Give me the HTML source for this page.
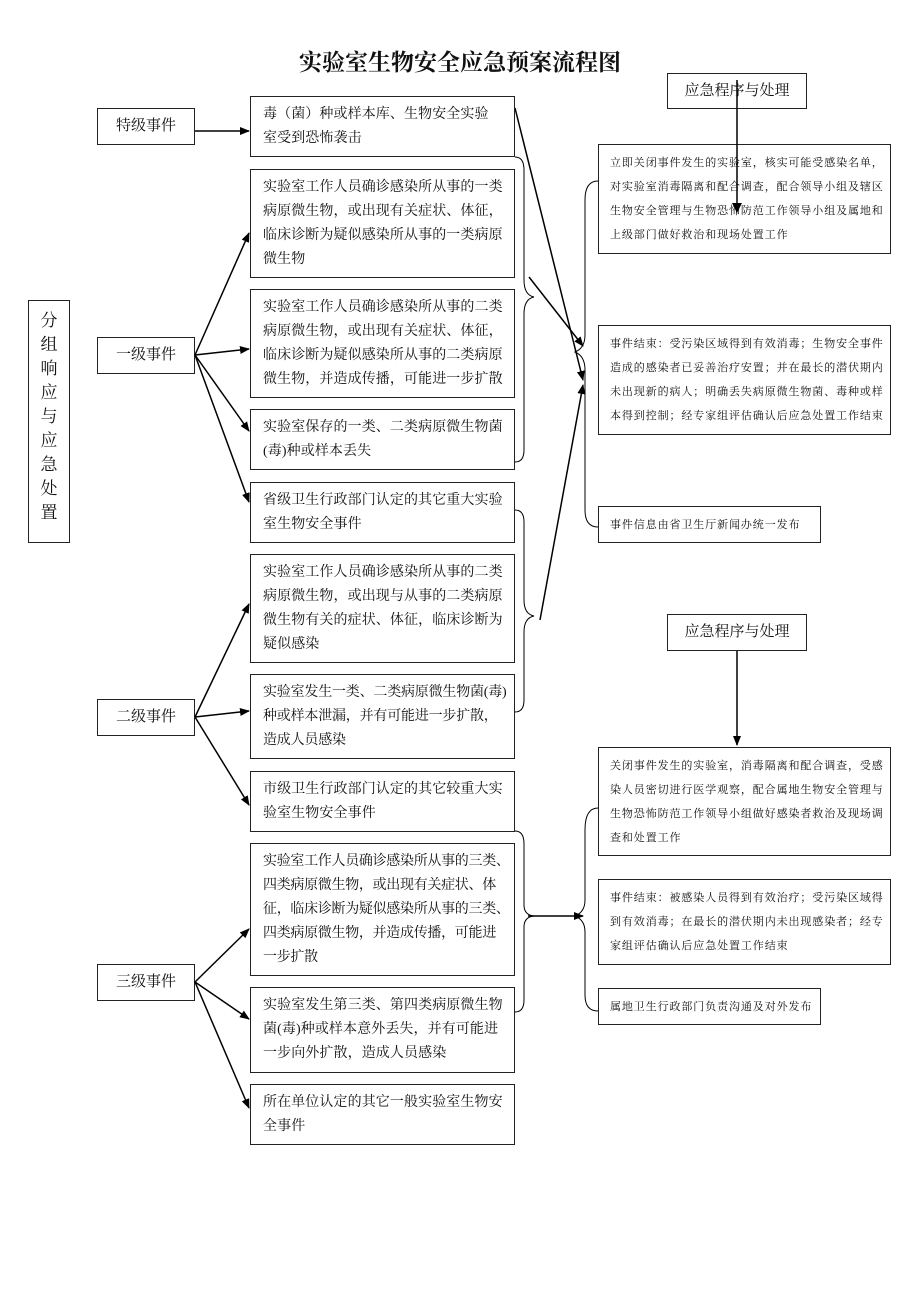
<!DOCTYPE html>
<html><head><meta charset="utf-8">
<style>
body{margin:0;background:#fff;}
#c{position:relative;width:920px;height:1302px;overflow:hidden;font-family:"Liberation Serif","Noto Serif CJK SC","Noto Sans CJK SC",serif;color:#111;}
.b{position:absolute;border:1.3px solid #222;box-sizing:border-box;background:#fff;}
.m{font-size:14px;line-height:24px;padding:6px 0 0 12px;letter-spacing:0.1px;white-space:nowrap;}
.r{font-size:11px;line-height:24px;padding:6px 0 0 11px;letter-spacing:0.9px;white-space:nowrap;}
.l{font-size:15px;text-align:center;line-height:34px;}
svg{position:absolute;left:0;top:0;}
</style></head><body><div id="c">
<div style="position:absolute;left:0;width:920px;top:44px;text-align:center;font-size:23px;font-weight:bold;font-family:'Noto Serif CJK SC','Noto Sans CJK SC',serif;">实验室生物安全应急预案流程图</div>

<div class="b l" style="left:97px;top:108px;width:98px;height:37px;">特级事件</div>
<div class="b l" style="left:97px;top:337px;width:98px;height:37px;">一级事件</div>
<div class="b l" style="left:97px;top:699px;width:98px;height:37px;">二级事件</div>
<div class="b l" style="left:97px;top:964px;width:98px;height:37px;">三级事件</div>
<div class="b" style="left:28px;top:300px;width:42px;height:243px;font-size:17px;line-height:24px;text-align:center;padding-top:8px;">分<br>组<br>响<br>应<br>与<br>应<br>急<br>处<br>置</div>

<svg width="920" height="1302">
<defs><marker id="a" markerWidth="10" markerHeight="8" refX="9" refY="4" orient="auto" markerUnits="userSpaceOnUse"><path d="M0,0L10,4L0,8z" fill="#000"/></marker></defs>
<g stroke="#000" stroke-width="1.5" fill="none">
<line x1="195" y1="131" x2="249" y2="131" marker-end="url(#a)"/>
<line x1="195" y1="355" x2="249" y2="233" marker-end="url(#a)"/>
<line x1="195" y1="355" x2="249" y2="349" marker-end="url(#a)"/>
<line x1="195" y1="355" x2="249" y2="431" marker-end="url(#a)"/>
<line x1="195" y1="355" x2="249" y2="502" marker-end="url(#a)"/>
<line x1="195" y1="717" x2="249" y2="604" marker-end="url(#a)"/>
<line x1="195" y1="717" x2="249" y2="711" marker-end="url(#a)"/>
<line x1="195" y1="717" x2="249" y2="805" marker-end="url(#a)"/>
<line x1="195" y1="982" x2="249" y2="929" marker-end="url(#a)"/>
<line x1="195" y1="982" x2="249" y2="1019" marker-end="url(#a)"/>
<line x1="195" y1="982" x2="249" y2="1108" marker-end="url(#a)"/>
<line x1="515" y1="108" x2="583" y2="380" marker-end="url(#a)"/>
<line x1="529" y1="277" x2="583" y2="346" marker-end="url(#a)"/>
<line x1="540" y1="620" x2="583" y2="385" marker-end="url(#a)"/>
<line x1="737" y1="650" x2="737" y2="745" marker-end="url(#a)"/>
<line x1="528" y1="916" x2="583" y2="916" marker-end="url(#a)"/>
</g>
<g stroke="#000" stroke-width="1" fill="none">
<path d="M515,157 Q524,157 524,170 L524,280 Q524,295 534,297 Q524,299 524,314 L524,450 Q524,462 515,462"/>
<path d="M515,510 Q524,510 524,522 L524,600 Q524,614 534,616 Q524,618 524,632 L524,700 Q524,712 515,712"/>
<path d="M515,831 Q524,831 524,844 L524,905 Q524,915 534,916 Q524,917 524,927 L524,1000 Q524,1012 515,1012"/>
<path d="M598,181 Q585,181 585,200 L585,335 Q585,348 575,352 Q585,356 585,370 L585,510 Q585,527 598,527"/>
<path d="M598,808 Q585,808 585,830 L585,900 Q585,912 575,916 Q585,920 585,932 L585,995 Q585,1011 598,1011"/>
</g>
</svg>

<div class="b m" style="left:250px;top:96px;width:265px;height:61px;">毒（菌）种或样本库、生物安全实验<br>室受到恐怖袭击</div>
<div class="b m" style="left:250px;top:169px;width:265px;height:109px;">实验室工作人员确诊感染所从事的一类<br>病原微生物，或出现有关症状、体征，<br>临床诊断为疑似感染所从事的一类病原<br>微生物</div>
<div class="b m" style="left:250px;top:289px;width:265px;height:109px;">实验室工作人员确诊感染所从事的二类<br>病原微生物，或出现有关症状、体征，<br>临床诊断为疑似感染所从事的二类病原<br>微生物，并造成传播，可能进一步扩散</div>
<div class="b m" style="left:250px;top:409px;width:265px;height:61px;">实验室保存的一类、二类病原微生物菌<br>(毒)种或样本丢失</div>
<div class="b m" style="left:250px;top:482px;width:265px;height:61px;">省级卫生行政部门认定的其它重大实验<br>室生物安全事件</div>
<div class="b m" style="left:250px;top:554px;width:265px;height:109px;">实验室工作人员确诊感染所从事的二类<br>病原微生物，或出现与从事的二类病原<br>微生物有关的症状、体征，临床诊断为<br>疑似感染</div>
<div class="b m" style="left:250px;top:674px;width:265px;height:85px;letter-spacing:-0.2px;">实验室发生一类、二类病原微生物菌(毒)<br>种或样本泄漏，并有可能进一步扩散，<br>造成人员感染</div>
<div class="b m" style="left:250px;top:771px;width:265px;height:61px;">市级卫生行政部门认定的其它较重大实<br>验室生物安全事件</div>
<div class="b m" style="left:250px;top:843px;width:265px;height:133px;letter-spacing:-0.3px;">实验室工作人员确诊感染所从事的三类、<br>四类病原微生物，或出现有关症状、体<br>征，临床诊断为疑似感染所从事的三类、<br>四类病原微生物，并造成传播，可能进<br>一步扩散</div>
<div class="b m" style="left:250px;top:987px;width:265px;height:86px;">实验室发生第三类、第四类病原微生物<br>菌(毒)种或样本意外丢失，并有可能进<br>一步向外扩散，造成人员感染</div>
<div class="b m" style="left:250px;top:1084px;width:265px;height:61px;">所在单位认定的其它一般实验室生物安<br>全事件</div>

<div class="b r" style="left:598px;top:144px;width:293px;height:110px;">立即关闭事件发生的实验室，核实可能受感染名单，<br>对实验室消毒隔离和配合调查，配合领导小组及辖区<br>生物安全管理与生物恐怖防范工作领导小组及属地和<br>上级部门做好救治和现场处置工作</div>
<div class="b r" style="left:598px;top:325px;width:293px;height:110px;">事件结束：受污染区域得到有效消毒；生物安全事件<br>造成的感染者已妥善治疗安置；并在最长的潜伏期内<br>未出现新的病人；明确丢失病原微生物菌、毒种或样<br>本得到控制；经专家组评估确认后应急处置工作结束</div>
<div class="b r" style="left:598px;top:506px;width:223px;height:37px;">事件信息由省卫生厅新闻办统一发布</div>
<div class="b r" style="left:598px;top:747px;width:293px;height:109px;">关闭事件发生的实验室，消毒隔离和配合调查，受感<br>染人员密切进行医学观察，配合属地生物安全管理与<br>生物恐怖防范工作领导小组做好感染者救治及现场调<br>查和处置工作</div>
<div class="b r" style="left:598px;top:879px;width:293px;height:86px;">事件结束：被感染人员得到有效治疗；受污染区域得<br>到有效消毒；在最长的潜伏期内未出现感染者；经专<br>家组评估确认后应急处置工作结束</div>
<div class="b r" style="left:598px;top:988px;width:223px;height:37px;">属地卫生行政部门负责沟通及对外发布</div>

<div class="b l" style="left:667px;top:73px;width:140px;height:36px;background:transparent;">应急程序与处理</div>
<div class="b l" style="left:667px;top:614px;width:140px;height:37px;">应急程序与处理</div>
<svg width="920" height="1302" style="pointer-events:none"><line x1="737" y1="80" x2="737" y2="205" stroke="#000" stroke-width="1.5"/><path d="M732,203L742,203L737,213z" fill="#000"/></svg>
</div></body></html>
